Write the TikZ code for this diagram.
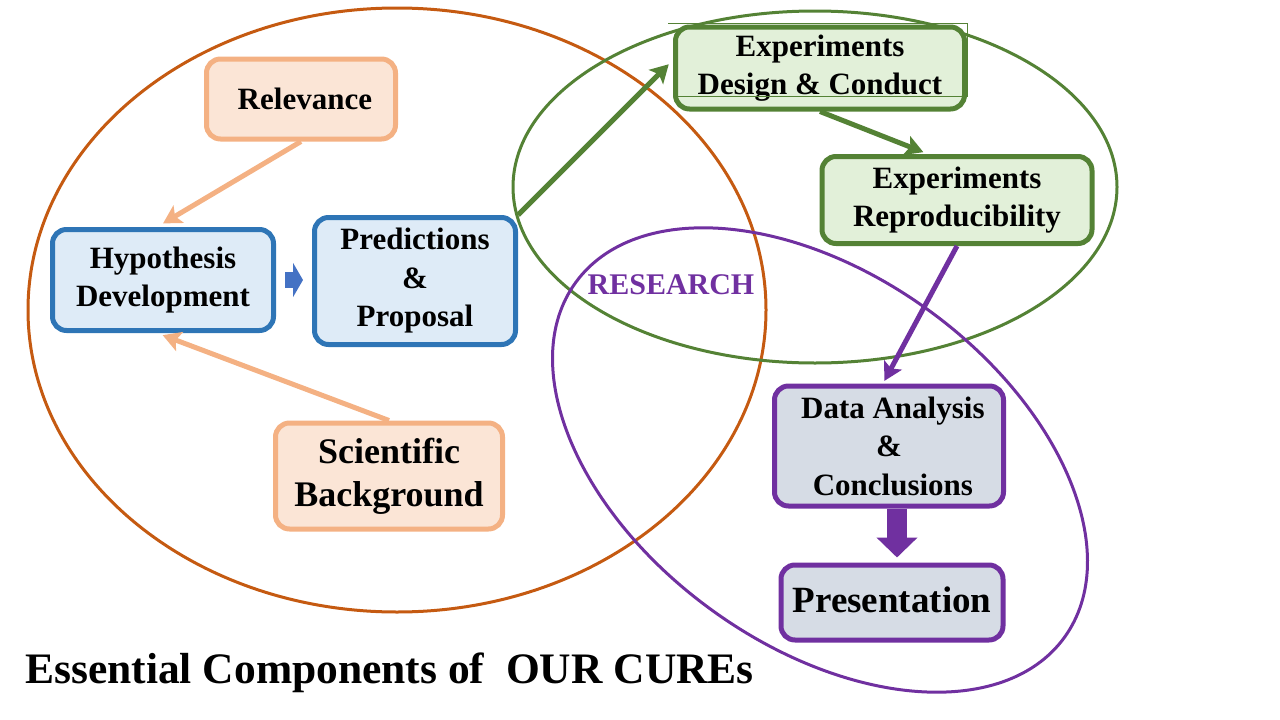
\documentclass[tikz,border=0pt]{standalone}
\usepackage{fontspec}
\setmainfont{Liberation Serif}
\usepackage{tikz}
\usetikzlibrary{positioning, arrows.meta}
\definecolor{ringOrange}{HTML}{C55A11}
\definecolor{peachLine}{HTML}{F4B183}
\definecolor{peachFill}{HTML}{FBE5D6}
\definecolor{blueLine}{HTML}{2E75B6}
\definecolor{blueFill}{HTML}{DEEBF7}
\definecolor{blueArrow}{HTML}{4472C4}
\definecolor{greenLine}{HTML}{548235}
\definecolor{greenFill}{HTML}{E2F0D9}
\definecolor{violetLine}{HTML}{7030A0}
\definecolor{violetFill}{HTML}{D6DCE5}

\begin{document}
\begin{tikzpicture}[x=1pt, y=-1pt,
  box/.style={draw, rounded corners=14pt, line width=5pt, inner sep=0pt,
              align=center, font=\fontsize{31}{38.5}\selectfont\bfseries},
  ring/.style={line width=3pt},
  link/.style={line width=5pt, -{Stealth[length=18pt, width=20pt, inset=4pt]}}
]
  \useasboundingbox (0,0) rectangle (1280,720);
  \draw[ring, ringOrange] (397,310) ellipse [x radius=369, y radius=302];
  \draw[ring, greenLine] (815,187) ellipse [x radius=302, y radius=176];
  \draw[ring, violetLine, rotate around={-36:(820,460)}]
    (820,460) ellipse [x radius=302, y radius=185];

  \node[box, draw=peachLine, fill=peachFill, minimum width=189, minimum height=80]
    (rel) at (301,99) {\ Relevance};
  \node[box, draw=blueLine, fill=blueFill, minimum width=221, minimum height=101]
    (hyp) at (163,280) {Hypothesis\\Development};
  \node[box, draw=blueLine, fill=blueFill, minimum width=201, minimum height=127]
    (pred) at (415,281) {Predictions\\\&\\Proposal};
  \node[box, draw=peachLine, fill=peachFill, minimum width=227, minimum height=106,
        font=\fontsize{36}{43}\selectfont\bfseries]
    (sci) at (389,476) {Scientific\\Background};
  \node[box, draw=greenLine, fill=greenFill, minimum width=289, minimum height=82]
    (des) at (820,68) {Experiments\\Design \& Conduct};
  \draw[greenLine, line width=1pt] (668,23) -| (967,96) -- (676,96);
  \node[box, draw=greenLine, fill=greenFill, minimum width=270, minimum height=87]
    (rep) at (957,200) {Experiments\\Reproducibility};
  \node[box, draw=violetLine, fill=violetFill, minimum width=229, minimum height=120]
    (ana) at (889,446) {\ Data Analysis\\\&\\\ Conclusions};
  \node[box, draw=violetLine, fill=violetFill, minimum width=222, minimum height=75,
        font=\fontsize{37}{44}\selectfont\bfseries, below=54pt of ana, xshift=3pt]
    (pre) {\raisebox{5pt}{Presentation}};

  \node[text=violetLine, font=\fontsize{30}{36}\selectfont\bfseries]
    (res) at (671,285) {RESEARCH};
  \node[anchor=base west, inner sep=0pt, font=\fontsize{43.5}{50}\selectfont\bfseries]
    (title) at (25,683) {Essential Components of\ \ OUR CUREs};

  \draw[link, peachLine, shorten >=7pt] (rel.south) -- ([xshift=-6pt]hyp.north);
  \draw[link, peachLine, shorten >=6pt] (sci.north) -- ([xshift=-6pt]hyp.south);
  \draw[blueArrow, line width=16pt, -{Triangle[width=34pt, length=10pt]},
        shorten <=9pt, shorten >=9pt] (hyp.east) -- (hyp.east -| pred.west);
  \draw[link, greenLine, shorten >=6pt] (pred.north east) -- ([yshift=8pt]des.west);
  \draw[link, greenLine, shorten >=5pt] (des.south) -- ([xshift=-29pt]rep.north);
  \draw[link, violetLine, shorten >=3pt] (rep.south) -- ([xshift=-6pt]ana.north);
  \draw[violetLine, line width=20pt, -{Triangle[width=40pt, length=20pt]},
        shorten >=5pt] ([xshift=8pt]ana.south) -- ([xshift=8pt]ana.south |- pre.north);
\end{tikzpicture}
\end{document}
